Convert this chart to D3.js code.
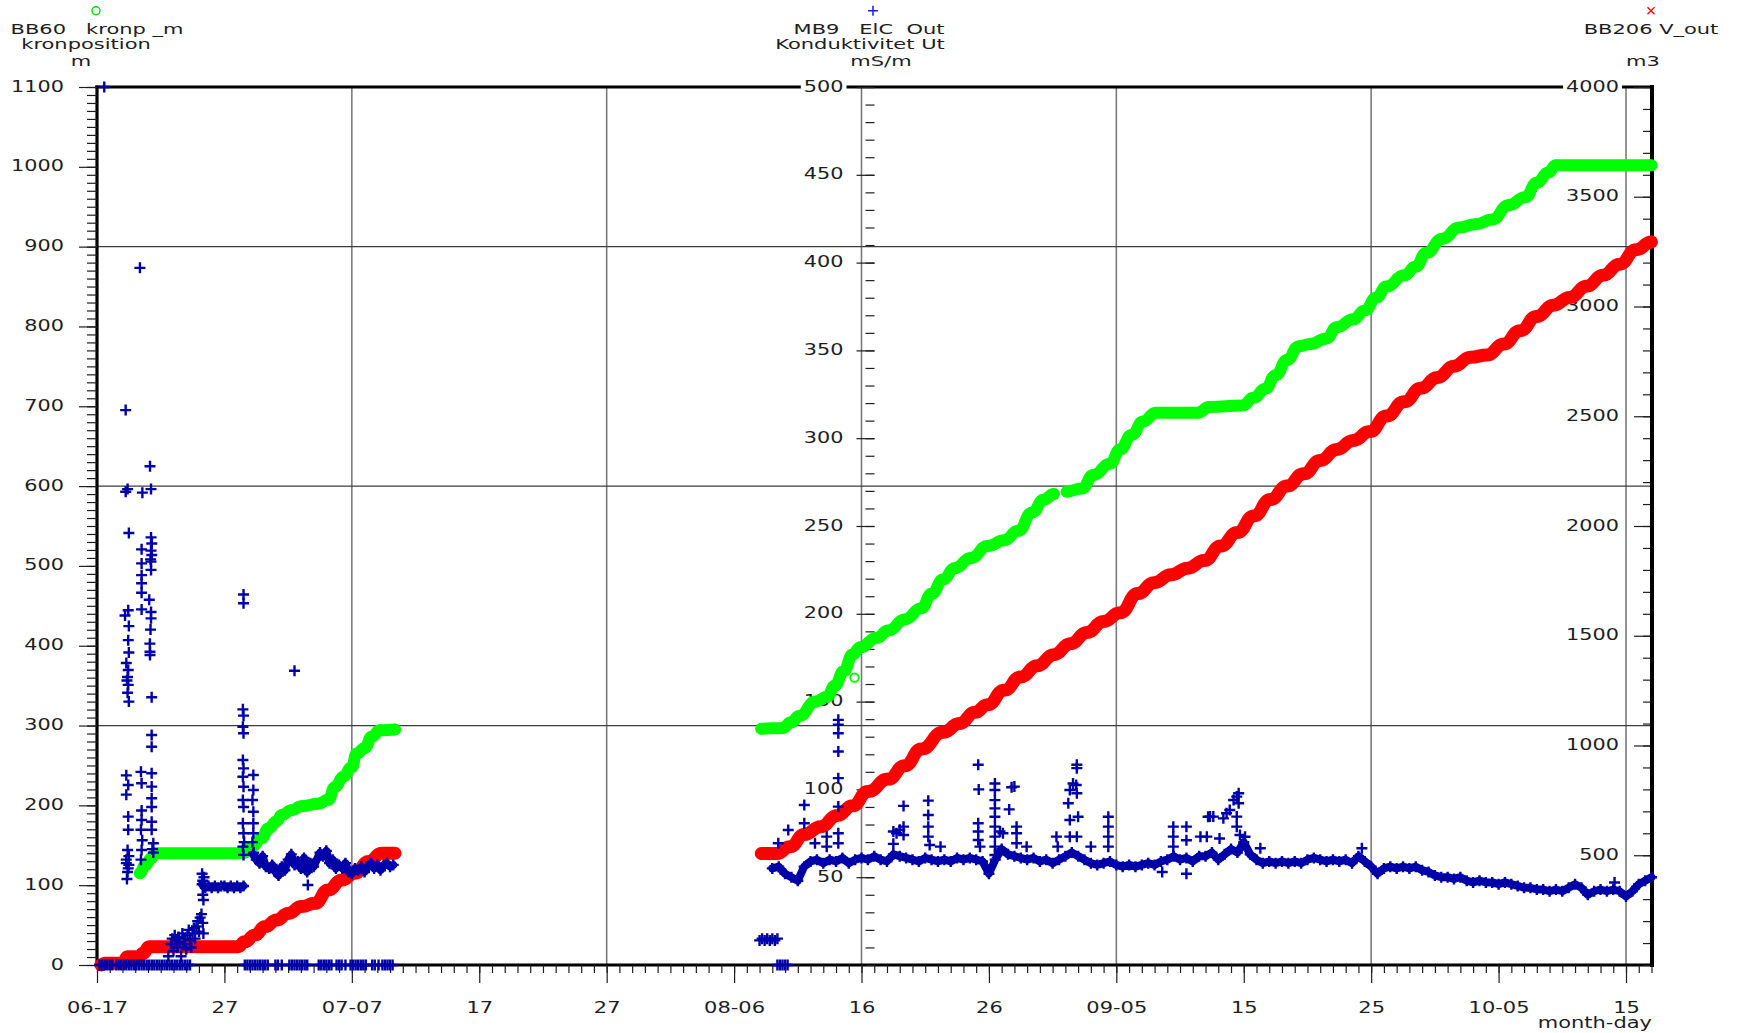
<!DOCTYPE html>
<html>
<head>
<meta charset="utf-8">
<script src="https://cdn.jsdelivr.net/npm/d3@7"></script>
<style>
  html, body { margin: 0; padding: 0; background: #fff; }
  svg { display: block; }
  text { font-family: "DejaVu Sans", Verdana, sans-serif; fill: #1e1e1e; white-space: pre; }
</style>
</head>
<body>
<svg id="chart" width="1740" height="1033"></svg>
<script>
// ---------------------------------------------------------------------------
// Logged values. Times are days since the start of logging (06-17 00:00).
// ---------------------------------------------------------------------------

// X axis labels, one every 10 days from the start of logging
const xTickLabels = ["06-17", "27", "07-07", "17", "27", "08-06", "16", "26", "09-05", "15", "25", "10-05", "15"];
const leftTickValues  = [0, 100, 200, 300, 400, 500, 600, 700, 800, 900, 1000, 1100];
const midTickValues   = [50, 100, 150, 200, 250, 300, 350, 400, 450, 500];
const rightTickValues = [500, 1000, 1500, 2000, 2500, 3000, 3500, 4000];
const gridDays        = [20, 40, 60, 80, 100, 120];
const gridLeftValues  = [300, 600, 900];

// BB60 kronp_m, crown position [m]  ([day, value]; null marks a logging gap)
const kronp = [
  [3.37, 115], [3.77, 125], [4.29, 134], [4.55, 140], [11.48, 140], [12.14, 148], [12.93, 159],
  [13.44, 171], [14.1, 180], [14.5, 188], [15.28, 194], [16.06, 199], [17.37, 202], [18.15, 207],
  [18.68, 223], [19.33, 236], [19.99, 248], [20.38, 265], [21.03, 272], [21.56, 286], [22.2, 294],
  [23.39, 295],
  [37.0, null],
  [52.13, 296], [53.8, 297], [54.5, 304], [55.1, 312], [56.4, 330], [57.3, 336], [57.9, 350],
  [58.6, 368], [59.3, 389], [59.9, 398], [61.2, 410], [62.1, 419], [63.4, 433], [64.7, 447],
  [65.5, 465], [66.4, 483], [67.3, 497], [68.6, 510], [69.9, 525], [71.2, 532], [72.3, 544],
  [73.4, 567], [74.3, 583], [75.1, 590],
  [75.6, null],
  [76.1, 593], [77.3, 597], [78.2, 614], [79.5, 628], [80.3, 646], [81.2, 664], [82.1, 681],
  [83.1, 692], [86.4, 692], [87.3, 699], [89.9, 701], [90.8, 711], [91.7, 722], [92.5, 739],
  [93.4, 758], [94.3, 775], [95.2, 778], [96.5, 785], [97.3, 799], [98.6, 809], [99.5, 820],
  [100.4, 836], [101.2, 850], [102.6, 864], [103.5, 875], [104.3, 892], [105.6, 910], [106.9, 924],
  [108.2, 928], [109.5, 934], [110.8, 952], [112.1, 962], [113.0, 980], [113.9, 993], [114.5, 1002],
  [122.0, 1002]
];
const kronpStray = [[59.45, 360]];

// BB206 V_out, outflow volume [m3]
const vOut = [
  [0.3, 0], [0.6, 8], [2.0, 9], [2.4, 38], [3.3, 38], [3.6, 53], [4.1, 83], [11.07, 83],
  [11.6, 106], [12.4, 137], [13.2, 175], [14.1, 205], [15.0, 235], [16.06, 266], [17.1, 281],
  [18.15, 342], [19.2, 387], [20.25, 418], [21.3, 471], [22.34, 509], [23.39, 509],
  [37.0, null],
  [52.13, 508], [53.35, 508], [54.4, 539], [55.5, 594], [56.8, 630], [58.1, 681], [59.3, 725],
  [60.5, 790], [62.1, 847], [63.4, 908], [64.7, 984], [66.4, 1060], [67.7, 1100], [68.9, 1151],
  [69.9, 1186], [71.2, 1252], [72.5, 1312], [73.8, 1363], [75.1, 1414], [76.4, 1464], [77.7, 1515],
  [79.0, 1565], [80.3, 1605], [81.7, 1692], [82.95, 1742], [84.3, 1778], [85.6, 1808], [86.9, 1843],
  [88.2, 1909], [89.5, 1970], [90.8, 2046], [92.1, 2121], [93.4, 2182], [94.7, 2238], [96.0, 2298],
  [97.3, 2349], [98.6, 2390], [99.9, 2430], [101.2, 2501], [102.6, 2566], [103.9, 2627], [105.2, 2677],
  [106.5, 2728], [107.8, 2769], [109.1, 2779], [110.4, 2829], [111.7, 2890], [113.0, 2955], [114.3, 3006],
  [115.6, 3041], [116.9, 3092], [118.2, 3142], [119.5, 3193], [120.8, 3259], [122.0, 3294]
];

// MB9 ElC Out, conductivity [mS/m]
// regular logging from day 53.0, one reading every 0.5 day
const elcAugStart = 53.0, elcAugStep = 0.5;
const elcAug = [
  55, 56, 52, 50, 48, 56, 59, 60, 58, 60, 59, 61, 58, 60, 61, 60, 62, 60, 59, 63,
  62, 61, 60, 59, 61, 60, 59, 60, 59, 61, 60, 61, 60, 59, 52, 60, 66, 63, 62, 61,
  60, 61, 59, 60, 58, 60, 62, 64, 62, 60, 58, 57, 58, 59, 57, 56, 57, 56, 57, 58,
  57, 59, 60, 62, 60, 61, 59, 62, 62, 64, 60, 63, 66, 64, 70, 63, 60, 58, 59, 58,
  59, 58, 59, 58, 60, 61, 60, 59, 60, 59, 60, 58, 62, 59, 56, 52, 55, 56, 55, 56,
  55, 56, 54, 53, 51, 50, 50, 49, 50, 48, 47, 48, 47, 47, 46, 47, 46, 45, 44, 44,
  43, 43, 42, 43, 42, 44, 46, 44, 40, 42, 43, 42, 43, 42, 39, 42, 46, 48, 50
];
// early July logging, one reading every 0.25 day from day 12.25
const elcJulStart = 12.25, elcJulStep = 0.25;
const elcJul = [
  63, 60, 58, 62, 56, 55, 57, 53, 51, 56, 54, 60, 63, 57, 59, 55, 61, 53, 58, 56,
  60, 64, 62, 65, 58, 60, 55, 57, 55, 58, 53, 52, 55, 54, 56, 53, 56, 58, 55, 57,
  54, 57, 58, 56, 57
];
// level period late June, one reading every 0.25 day from day 8.25
const elcJunStart = 8.25, elcJunStep = 0.25;
const elcJun = [46, 44, 45, 44, 45, 44, 45, 45, 44, 45, 44, 45, 44, 45];
// scattered readings [day, value]
const elcScatter = [
  [0.57, 500],
  [2.25, 316], [2.25, 269.5], [2.4, 271], [2.5, 246], [2.45, 202], [2.2, 199], [2.5, 193],
  [2.45, 185], [2.5, 178], [2.45, 168], [2.4, 164], [2.45, 159.5], [2.4, 155], [2.5, 150],
  [2.3, 172], [2.35, 162], [2.3, 108], [2.45, 102.5], [2.3, 97], [2.45, 84.5], [2.45, 77],
  [2.4, 65.5], [2.3, 60], [2.45, 55], [2.35, 49], [2.5, 62], [2.3, 58], [2.4, 53], [2.5, 57],
  [3.37, 397], [3.56, 269], [3.5, 236.7], [3.5, 228.7], [3.5, 222], [3.5, 217.4], [3.5, 212],
  [3.5, 202.5], [3.45, 110], [3.5, 103.5], [3.5, 88], [3.5, 82.6], [3.45, 77], [3.55, 71],
  [3.5, 65.5], [3.45, 60],
  [4.16, 284], [4.24, 271], [4.24, 243.5], [4.3, 240], [4.24, 236], [4.3, 233.5], [4.2, 231],
  [4.24, 229.7], [4.24, 225], [4.1, 208], [4.24, 201], [4.24, 197.4], [4.2, 191], [4.15, 183],
  [4.16, 178.4], [4.16, 176.5], [4.29, 152.5], [4.29, 131], [4.29, 124.3], [4.29, 109.2],
  [4.29, 101.6], [4.29, 95], [4.29, 90], [4.29, 81.6], [4.29, 77], [4.42, 69.3], [4.35, 66], [4.42, 64],
  [5.6, 5], [5.8, 12], [5.9, 15], [6.0, 8], [6.1, 17], [6.2, 14], [6.3, 10], [6.4, 16], [6.5, 13],
  [6.6, 5], [6.7, 18], [6.8, 12], [6.9, 15], [7.0, 9], [7.1, 17], [7.2, 20], [7.3, 14], [7.4, 10],
  [7.5, 18], [7.6, 21], [7.7, 15], [7.8, 22], [7.9, 25], [8.0, 19], [8.1, 27], [8.2, 29], [8.3, 24],
  [8.35, 18], [8.25, 52], [8.3, 48], [8.3, 40], [8.35, 37], [8.4, 50],
  [11.5, 211], [11.5, 206], [11.45, 145.6], [11.5, 142], [11.45, 135.7], [11.5, 132], [11.45, 116.7],
  [11.5, 112], [11.45, 107.2], [11.5, 101.5], [11.45, 94], [11.5, 90], [11.45, 80.7], [11.5, 75],
  [11.45, 67.4], [11.55, 70], [11.5, 62.7],
  [12.27, 108.2], [12.27, 99.7], [12.2, 94], [12.27, 87.3], [12.27, 80.7], [12.27, 75], [12.2, 70], [12.3, 64],
  [15.5, 167.6], [16.55, 45.6],
  [52.0, 14], [52.2, 15], [52.4, 14], [52.6, 15], [52.8, 14], [53.0, 15], [53.2, 14], [53.4, 15],
  [53.47, 69.3], [54.25, 76.9], [55.51, 91.1], [55.51, 80.7], [56.35, 69.3], [57.27, 73.1], [57.27, 67.4],
  [58.18, 139.6], [58.18, 136.8], [58.18, 132], [58.18, 121.6], [58.18, 106.4], [58.18, 90.2],
  [58.18, 75], [58.18, 69.3],
  [62.5, 76], [62.75, 75], [63.0, 77], [63.3, 74], [63.3, 90.6], [63.3, 78.8], [62.5, 69],
  [65.24, 93.6], [65.24, 85.4], [65.24, 78.8], [65.24, 73.1], [65.35, 68.3], [66.2, 67.4],
  [69.16, 114], [69.2, 100], [69.16, 80.7], [69.16, 76], [69.16, 71.2], [69.3, 67.4],
  [70.47, 103.4], [70.47, 99.7], [70.47, 93.9], [70.47, 89.2], [70.47, 84.4], [70.47, 78.8],
  [70.47, 73.1], [70.47, 67.4], [70.47, 62.6], [70.87, 76], [71.1, 75],
  [71.59, 88.6], [71.78, 101.2], [72.0, 101.6], [72.17, 78.8], [72.17, 75], [72.17, 69.3], [72.96, 67.4],
  [75.3, 73.1], [75.4, 67.4], [76.23, 92.1], [76.35, 99.7], [76.6, 103.4], [76.85, 102.5],
  [76.35, 82.6], [76.35, 73.1], [76.9, 114], [76.9, 112.1], [76.9, 97.8], [77.0, 84.4], [76.9, 73.1],
  [78.0, 67.4], [79.37, 84.4], [79.37, 78.8], [79.37, 73.1], [79.37, 67.4],
  [83.6, 53], [85.5, 52], [84.47, 78.8], [84.47, 73.1], [84.47, 67.4], [85.5, 78.8], [85.5, 71],
  [86.6, 73.1], [87.2, 84.4],
  [87.35, 84.5], [87.61, 84.5], [88.4, 83.5], [88.65, 86.4], [88.9, 88.3], [89.2, 94], [89.45, 95.9],
  [89.6, 97.8], [89.6, 92.1], [89.45, 84.5], [89.45, 78.8], [89.7, 74], [90.1, 73], [88.1, 72],
  [87.1, 73.1], [91.3, 66.5], [99.27, 66.5], [119.1, 47]
];
// readings logged as zero
const elcZeroDays = [
  0.2, 0.4, 0.6, 0.8, 1.0, 1.2, 1.5, 1.7, 1.9, 2.1, 2.3, 2.5, 2.7, 2.9, 3.1, 3.3, 3.5, 3.7, 3.9,
  4.1, 4.3, 4.5, 4.7, 4.9, 5.1, 5.3, 5.5, 5.7, 5.9, 6.1, 6.3, 6.5, 6.7, 6.9, 7.1, 7.3,
  11.6, 11.8, 12.0, 12.2, 12.4, 12.6, 12.8, 13.0, 13.2, 13.4, 14.0, 14.2, 14.5,
  15.1, 15.3, 15.5, 15.7, 15.9, 16.1, 16.3, 16.5, 17.4, 17.6, 17.8, 18.0, 18.2, 18.4,
  18.8, 19.0, 19.2, 19.5, 19.9, 20.1, 20.3, 20.5, 20.7, 20.9, 21.1, 21.6, 21.8, 22.1,
  22.4, 22.6, 22.8, 23.0, 23.2, 53.4, 53.6, 53.8, 54.0, 54.2
];

// ---------------------------------------------------------------------------
// Scales
// ---------------------------------------------------------------------------
const DAY = 864e5;
const t0 = Date.UTC(2009, 5, 17);
const at = d => new Date(t0 + d * DAY);

const X0 = 97, X1 = 1652, Y0 = 87, Y1 = 965;
const x = d3.scaleUtc().domain([at(0), at(122.04)]).range([X0, X1]);
const yLeft  = d3.scaleLinear().domain([0, 1100]).range([Y1, Y0]);
const yMid   = d3.scaleLinear().domain([0, 500]).range([Y1, Y0]);
const yRight = d3.scaleLinear().domain([0, 4000]).range([Y1, Y0]);

const svg = d3.select("#chart");

// ---------------------------------------------------------------------------
// Grid and frame
// ---------------------------------------------------------------------------
svg.append("g").selectAll("line").data(gridDays).join("line")
  .attr("x1", d => x(at(d))).attr("x2", d => x(at(d)))
  .attr("y1", Y0).attr("y2", Y1)
  .attr("stroke", "#7a7a7a").attr("stroke-width", 1.6);

svg.append("g").selectAll("line").data(gridLeftValues).join("line")
  .attr("x1", X0).attr("x2", X1)
  .attr("y1", d => yLeft(d)).attr("y2", d => yLeft(d))
  .attr("stroke", "#3c3c3c").attr("stroke-width", 1.2);

const frame = svg.append("g").attr("stroke", "#000").attr("stroke-linecap", "square");
frame.append("line").attr("x1", X0).attr("x2", X1).attr("y1", Y0).attr("y2", Y0).attr("stroke-width", 3.2);
frame.append("line").attr("x1", X0).attr("x2", X1).attr("y1", Y1).attr("y2", Y1).attr("stroke-width", 3.2);
frame.append("line").attr("x1", X0).attr("x2", X0).attr("y1", Y0).attr("y2", Y1).attr("stroke-width", 3.2);
frame.append("line").attr("x1", X1).attr("x2", X1).attr("y1", Y0).attr("y2", Y1).attr("stroke-width", 4);

// ---------------------------------------------------------------------------
// Axes
// ---------------------------------------------------------------------------
function finishAxis(g, fontSize, sx, vertical) {
  g.attr("font-family", null).attr("font-size", null);
  g.select(".domain").remove();
  g.selectAll(".tick line").attr("stroke", "#1e1e1e").attr("stroke-width", 1.2);
  g.selectAll(".tick text").each(function () {
    const t = d3.select(this);
    t.style("font-size", fontSize + "px");
    if (vertical) {
      const tx = +t.attr("x");
      t.attr("x", 0).attr("dy", "0.25em").attr("transform", `translate(${tx},0) scale(${sx},1)`);
      this.__tx = tx;
    } else {
      const ty = +t.attr("y");
      t.attr("y", 0).attr("transform", `translate(0,${ty}) scale(${sx},1)`);
    }
  });
}
// white box behind a label sitting on the top frame line
function knockout(g, value, sx) {
  g.selectAll(".tick").filter(d => d === value).each(function () {
    const tick = d3.select(this);
    const txt = tick.select("text");
    const w = txt.node().getComputedTextLength() * sx;
    const tx = txt.node().__tx;
    tick.insert("rect", "text")
      .attr("x", tx - w - 3).attr("y", -10).attr("width", w + 6).attr("height", 20)
      .attr("fill", "#fff");
  });
}

const YSX = 1.3, XSX = 1.4;
const plain = d3.format("d");

// left axis: BB60 kronp_m
const gLmin = svg.append("g").attr("transform", `translate(${X0},0)`)
  .call(d3.axisLeft(yLeft).tickValues(d3.range(0, 1101, 10)).tickSize(10).tickFormat(""));
finishAxis(gLmin, 16, YSX, true);
const gL = svg.append("g").attr("transform", `translate(${X0},0)`)
  .call(d3.axisLeft(yLeft).tickValues(leftTickValues).tickSize(18).tickPadding(15).tickFormat(plain));
finishAxis(gL, 16, YSX, true);

// middle axis: MB9 ElC Out, on the 08-16 grid line
const midX = x(at(60)) + 13;
const gMmin = svg.append("g").attr("transform", `translate(${midX},0)`)
  .call(d3.axisLeft(yMid).tickValues(d3.range(0, 501, 10)).tickSize(9).tickFormat(""));
finishAxis(gMmin, 16, YSX, true);
const gM = svg.append("g").attr("transform", `translate(${midX},0)`)
  .call(d3.axisLeft(yMid).tickValues(midTickValues).tickSize(18).tickPadding(13).tickFormat(plain));
finishAxis(gM, 16, YSX, true);
knockout(gM, 500, YSX);

// right axis: BB206 V_out
const gRmin = svg.append("g").attr("transform", `translate(${X1 - 2},0)`)
  .call(d3.axisLeft(yRight).tickValues(d3.range(0, 4001, 100)).tickSize(7).tickFormat(""));
finishAxis(gRmin, 16, YSX, true);
const gR = svg.append("g").attr("transform", `translate(${X1 - 2},0)`)
  .call(d3.axisLeft(yRight).tickValues(rightTickValues).tickSize(16).tickPadding(15).tickFormat(plain));
finishAxis(gR, 16, YSX, true);
knockout(gR, 4000, YSX);

// time axis
const gXmin = svg.append("g").attr("transform", `translate(0,${Y1})`)
  .call(d3.axisBottom(x).tickValues(d3.range(0, 123).map(at)).tickSize(8).tickFormat(""));
finishAxis(gXmin, 15, XSX, false);
const gX = svg.append("g").attr("transform", `translate(0,${Y1})`)
  .call(d3.axisBottom(x).tickValues(xTickLabels.map((_, i) => at(i * 10)))
    .tickSize(18).tickPadding(19).tickFormat((d, i) => xTickLabels[i]));
finishAxis(gX, 15, XSX, false);

svg.append("text")
  .attr("transform", `translate(${X1},1028) scale(${XSX},1)`)
  .attr("text-anchor", "end").style("font-size", "15px")
  .text("month-day");

// ---------------------------------------------------------------------------
// Series
// ---------------------------------------------------------------------------
const GREEN = "#00ff00", RED = "#ff0000", BLUE = "#0000a8";

// BB60 crown position: readings held flat around each logged value
const lineKronp = d3.line().defined(p => p[1] != null).curve(d3.curveBumpX)
  .x(p => x(at(p[0]))).y(p => yLeft(p[1]));
svg.append("path").datum(kronp).attr("d", lineKronp)
  .attr("fill", "none").attr("stroke", GREEN).attr("stroke-width", 12)
  .attr("stroke-linejoin", "round").attr("stroke-linecap", "round");
svg.append("g").selectAll("circle").data(kronp.filter(p => p[1] != null)).join("circle")
  .attr("cx", p => x(at(p[0]))).attr("cy", p => yLeft(p[1])).attr("r", 5.8)
  .attr("fill", GREEN);
svg.append("g").selectAll("circle").data(kronpStray).join("circle")
  .attr("cx", p => x(at(p[0]))).attr("cy", p => yLeft(p[1])).attr("r", 4.2)
  .attr("fill", "none").attr("stroke", GREEN).attr("stroke-width", 2);

// BB206 outflow volume
const lineVol = d3.line().defined(p => p[1] != null).curve(d3.curveBumpX)
  .x(p => x(at(p[0]))).y(p => yRight(p[1]));
svg.append("path").datum(vOut).attr("d", lineVol)
  .attr("fill", "none").attr("stroke", RED).attr("stroke-width", 13)
  .attr("stroke-linejoin", "round").attr("stroke-linecap", "round");

// MB9 conductivity
const series = (start, step, values) => values.map((v, i) => [start + i * step, v]);
const elcAugPts = series(elcAugStart, elcAugStep, elcAug);
const elcJulPts = series(elcJulStart, elcJulStep, elcJul);
const elcJunPts = series(elcJunStart, elcJunStep, elcJun);
const elcAll = [].concat(
  elcZeroDays.map(d => [d, 0]),
  elcJunPts, elcJulPts, elcAugPts,
  elcScatter
);
const lineElc = d3.line().x(p => x(at(p[0]))).y(p => yMid(p[1]));
svg.append("g").selectAll("path").data([elcJunPts, elcJulPts, elcAugPts]).join("path")
  .attr("d", lineElc)
  .attr("fill", "none").attr("stroke", BLUE).attr("stroke-width", 8)
  .attr("stroke-linejoin", "round").attr("stroke-linecap", "round");
svg.append("g").selectAll("path").data(elcAll).join("path")
  .attr("transform", p => `translate(${x(at(p[0]))},${yMid(p[1])})`)
  .attr("d", "M-5.5,0H5.5M0,-5.5V5.5")
  .attr("stroke", BLUE).attr("stroke-width", 2.4).attr("fill", "none");

// ---------------------------------------------------------------------------
// Series titles with their markers
// ---------------------------------------------------------------------------
const HSX = 1.5;
const head = svg.append("g").style("font-size", "14px");
function headText(str, cx, baseline) {
  head.append("text").attr("xml:space", "preserve")
    .attr("transform", `translate(${cx},${baseline}) scale(${HSX},1)`)
    .attr("text-anchor", "middle").text(str);
}
headText("BB60   kronp _m", 97, 34);
headText("kronposition", 86, 49);
headText("m", 81, 66);
headText("MB9   ElC  Out", 869, 34);
headText("Konduktivitet Ut", 860, 49);
headText("mS/m", 881, 66);
headText("BB206 V_out", 1651, 34);
headText("m3", 1643, 66);

head.append("circle").attr("cx", 96).attr("cy", 10.7).attr("r", 4)
  .attr("fill", "none").attr("stroke", "#00dd00").attr("stroke-width", 1.4);
head.append("path").attr("transform", "translate(873,10.7)").attr("d", "M-5,0H5M0,-5V5")
  .attr("stroke", "#1a1ae0").attr("stroke-width", 1.5);
head.append("path").attr("transform", "translate(1651,10.7)").attr("d", "M-3.5,-3.5L3.5,3.5M-3.5,3.5L3.5,-3.5")
  .attr("stroke", "#ff0000").attr("stroke-width", 1.3);
</script>
</body>
</html>
